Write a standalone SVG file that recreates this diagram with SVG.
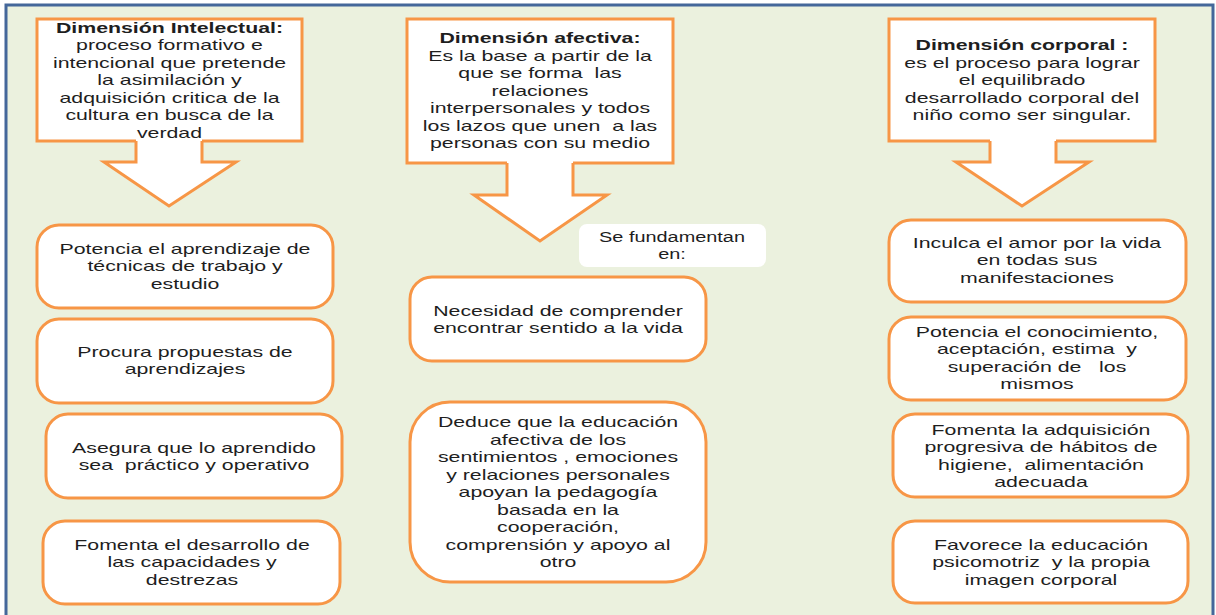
<svg xmlns="http://www.w3.org/2000/svg" width="1216" height="615" viewBox="0 0 1216 615">
<style>
.bg{fill:#EBF1DE;stroke:#44679A;stroke-width:3}
.box{fill:#FFFFFF;stroke:#F79646;stroke-width:3;stroke-linejoin:miter}
.rbox{fill:#FFFFFF;stroke:#F79646;stroke-width:3}
.arrow{fill:#FFFFFF;stroke:#F79646;stroke-width:3;stroke-linejoin:miter}
.note{fill:#FFFFFF;stroke:none}
text{font-family:"Liberation Sans",Arial,sans-serif;font-size:15px;fill:#1E1E1E;text-anchor:middle;white-space:pre}
.t{font-weight:bold}
.s{font-size:14px}
</style>
<rect class="bg" x="6" y="5" width="1207" height="620"/>
<g id="connectors">
<path class="arrow" d="M136,141 L136,162 L104,162 L169,206 L236,162 L202,162 L202,141"/>
<path class="arrow" d="M507,163 L507,195 L474,195 L540,241 L607,195 L573,195 L573,163"/>
<path class="arrow" d="M990,141 L990,162 L956,162 L1022,206 L1089,162 L1056,162 L1056,141"/>
</g>
<g id="dim-intelectual">
<path class="box" d="M136,141 L37,141 L37,19 L302,19 L302,141 L202,141"/>
<g transform="translate(169.5,0) scale(1.42,1)">
<text class="t" x="0" y="33">Dimensión Intelectual:</text>
<text x="0" y="50.5">proceso formativo e</text>
<text x="0" y="68">intencional que pretende</text>
<text x="0" y="85.5">la asimilación y</text>
<text x="0" y="103">adquisición critica de la</text>
<text x="0" y="120.5">cultura en busca de la</text>
<text x="0" y="138">verdad</text>
</g>
</g>
<g id="dim-afectiva">
<path class="box" d="M507,163 L407,163 L407,19 L673,19 L673,163 L573,163"/>
<g transform="translate(540,0) scale(1.42,1)">
<text class="t" x="0" y="43.5">Dimensión afectiva:</text>
<text x="0" y="61">Es la base a partir de la</text>
<text x="0" y="78.5" xml:space="preserve">que se forma  las</text>
<text x="0" y="96">relaciones</text>
<text x="0" y="113.5">interpersonales y todos</text>
<text x="0" y="131" xml:space="preserve">los lazos que unen  a las</text>
<text x="0" y="148.5">personas con su medio</text>
</g>
</g>
<g id="dim-corporal">
<path class="box" d="M990,141 L889,141 L889,19 L1155,19 L1155,141 L1056,141"/>
<g transform="translate(1022,0) scale(1.42,1)">
<text class="t" x="0" y="50">Dimensión corporal :</text>
<text x="0" y="68">es el proceso para lograr</text>
<text x="0" y="85.5">el equilibrado</text>
<text x="0" y="103">desarrollado corporal del</text>
<text x="0" y="120.5">niño como ser singular.</text>
</g>
</g>
<g id="int-1">
<rect class="rbox" x="37" y="225" width="296" height="83" rx="22"/>
<g transform="translate(185,0) scale(1.42,1)">
<text x="0" y="254">Potencia el aprendizaje de</text>
<text x="0" y="271.5">técnicas de trabajo y</text>
<text x="0" y="289">estudio</text>
</g>
</g>
<g id="int-2">
<rect class="rbox" x="37" y="319" width="296" height="84" rx="22"/>
<g transform="translate(185,0) scale(1.42,1)">
<text x="0" y="357">Procura propuestas de</text>
<text x="0" y="374.5">aprendizajes</text>
</g>
</g>
<g id="int-3">
<rect class="rbox" x="46" y="414" width="296" height="84" rx="22"/>
<g transform="translate(194,0) scale(1.42,1)">
<text x="0" y="453">Asegura que lo aprendido</text>
<text x="0" y="470.5" xml:space="preserve">sea  práctico y operativo</text>
</g>
</g>
<g id="int-4">
<rect class="rbox" x="43" y="521" width="297" height="83" rx="22"/>
<g transform="translate(192,0) scale(1.42,1)">
<text x="0" y="550">Fomenta el desarrollo de</text>
<text x="0" y="567.5">las capacidades y</text>
<text x="0" y="585">destrezas</text>
</g>
</g>
<g id="fundamentan">
<rect class="note" x="579" y="224" width="187" height="43" rx="8"/>
<g transform="translate(672,0) scale(1.42,1)">
<text class="s" x="0" y="242">Se fundamentan</text>
<text class="s" x="0" y="259.5">en:</text>
</g>
</g>
<g id="afe-1">
<rect class="rbox" x="410" y="277" width="296" height="84" rx="22"/>
<g transform="translate(558,0) scale(1.42,1)">
<text x="0" y="316">Necesidad de comprender</text>
<text x="0" y="333.5">encontrar sentido a la vida</text>
</g>
</g>
<g id="afe-2">
<rect class="rbox" x="410" y="402" width="296" height="180" rx="40"/>
<g transform="translate(558,0) scale(1.42,1)">
<text x="0" y="427.5">Deduce que la educación</text>
<text x="0" y="445">afectiva de los</text>
<text x="0" y="462.5">sentimientos , emociones</text>
<text x="0" y="480">y relaciones personales</text>
<text x="0" y="497.5">apoyan la pedagogía</text>
<text x="0" y="515">basada en la</text>
<text x="0" y="532.5">cooperación,</text>
<text x="0" y="550">comprensión y apoyo al</text>
<text x="0" y="567.5">otro</text>
</g>
</g>
<g id="cor-1">
<rect class="rbox" x="889" y="220" width="297" height="82" rx="22"/>
<g transform="translate(1037,0) scale(1.42,1)">
<text x="0" y="248">Inculca el amor por la vida</text>
<text x="0" y="265.5">en todas sus</text>
<text x="0" y="283">manifestaciones</text>
</g>
</g>
<g id="cor-2">
<rect class="rbox" x="889" y="317" width="297" height="83" rx="22"/>
<g transform="translate(1037,0) scale(1.42,1)">
<text x="0" y="337">Potencia el conocimiento,</text>
<text x="0" y="354.5" xml:space="preserve">aceptación, estima  y</text>
<text x="0" y="372" xml:space="preserve">superación de   los</text>
<text x="0" y="389.5">mismos</text>
</g>
</g>
<g id="cor-3">
<rect class="rbox" x="893" y="414" width="295" height="83" rx="22"/>
<g transform="translate(1041,0) scale(1.42,1)">
<text x="0" y="435">Fomenta la adquisición</text>
<text x="0" y="452.5">progresiva de hábitos de</text>
<text x="0" y="470" xml:space="preserve">higiene,  alimentación</text>
<text x="0" y="487.5">adecuada</text>
</g>
</g>
<g id="cor-4">
<rect class="rbox" x="893" y="521" width="295" height="82" rx="22"/>
<g transform="translate(1041,0) scale(1.42,1)">
<text x="0" y="550">Favorece la educación</text>
<text x="0" y="567.5" xml:space="preserve">psicomotriz  y la propia</text>
<text x="0" y="585">imagen corporal</text>
</g>
</g>
</svg>
